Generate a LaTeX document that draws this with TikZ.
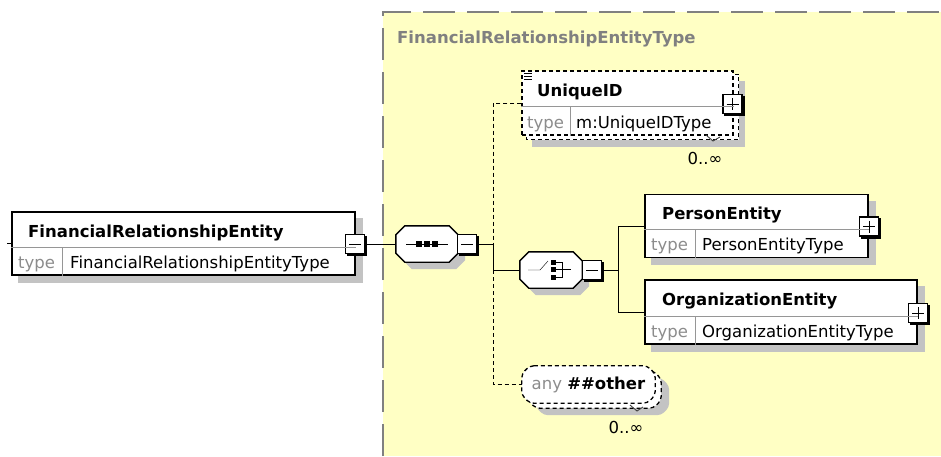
\documentclass[tikz,border=0pt]{standalone}
\usepackage{fontspec}
\setmainfont{DejaVu Sans}
\usetikzlibrary{calc}
\definecolor{bgyellow}{RGB}{255,255,196}
\definecolor{framegray}{RGB}{128,128,128}
\definecolor{shadowgray}{RGB}{195,195,195}
\definecolor{typegray}{RGB}{140,140,140}
\definecolor{rulegray}{RGB}{150,150,150}
\pgfdeclarelayer{bg}
\pgfdeclarelayer{shadow}
\pgfsetlayers{bg,shadow,main}

\tikzset{every picture/.style={line width=1.3pt},
  elem/.style={draw, fill=white, rectangle, inner sep=0pt, line width=1.3pt},
  optelem/.style={elem, dash pattern=on 4pt off 3pt},
  backcopy/.style={draw, fill=white, dash pattern=on 4pt off 3pt, line width=1.3pt},
  shadowfill/.style={fill=shadowgray},
  optline/.style={dash pattern=on 4pt off 3pt},
  togglebox/.style={draw, fill=white, rectangle, minimum size=19pt, inner sep=0pt, line width=1.2pt},
  compbox/.style={rectangle, minimum width=62pt, minimum height=36pt, inner sep=0pt},
  anybox/.style={rectangle, minimum width=133pt, minimum height=37pt, inner sep=0pt},
  txt/.style={font=\fontsize{16.5}{20}\selectfont, inner sep=0pt},
  elemname/.style={txt, font=\fontsize{16.5}{20}\selectfont\bfseries},
  typetag/.style={txt, text=typegray},
}

\begin{document}
\begin{tikzpicture}[x=1pt,y=1pt,yscale=-1]
\useasboundingbox (0,0) rectangle (941,456);

%Complex type area
\begin{pgfonlayer}{bg}
\fill[bgyellow] (383,12) rectangle (941,456);
\draw[framegray, line width=1.5pt, dash pattern=on 32pt off 12pt] (383,456) -- (383,12) -- (941,12);
\end{pgfonlayer}
% Text Node
\node[elemname, text=framegray, anchor=base west] (title) at (397,43) {FinancialRelationshipEntityType};

%Element: FinancialRelationshipEntity
\node[elem, minimum width=343pt, minimum height=63pt] (main) at (183.5,243.5) {};
\node[elemname, anchor=base west] (mainname) at (28,237) {FinancialRelationshipEntity};
\node[typetag, anchor=base west] (maintag) at (18,268) {type};
\node[txt, anchor=base west] (maintype) at (70,268) {FinancialRelationshipEntityType};
\coordinate (stub) at (7,243.5);

%Compositors: sequence and choice
\node[compbox] (seq) at (427,244) {};
\node[compbox] (choice) at (551,270) {};
\foreach \n in {seq,choice}
  \draw[fill=white, line width=1.4pt] ($(\n.north west)+(9,0)$) -- ($(\n.north east)+(-9,0)$) -- ($(\n.north east)+(0,9)$) -- ($(\n.south east)+(0,-9)$) -- ($(\n.south east)+(-9,0)$) -- ($(\n.south west)+(9,0)$) -- ($(\n.south west)+(0,-9)$) -- ($(\n.north west)+(0,9)$) -- cycle;
\draw (406,244) -- (448,244);
\foreach \x in {419,427,435} \fill (\x-3,241) rectangle +(6,6);
\draw (528,270) -- (540,270) -- (548,261);
\foreach \y in {262,269.5,277} \fill (550.5,\y-2.5) rectangle +(5,5);
\draw (555,262) -- (562,262) -- (562,277) -- (555,277);
\draw (555,269.5) -- (571,269.5);

%Element: UniqueID
\node[optelem, minimum width=211pt, minimum height=64pt] (uid) at (627.5,103) {};
\node[elemname, anchor=base west] (uidname) at (537,96) {UniqueID};
\node[typetag, anchor=base west] (uidtag) at (527,128) {type};
\node[txt, anchor=base west] (uidtype) at (576,128) {m:UniqueIDType};
\foreach \y in {73,76,79} \draw[line width=0.9pt] (524,\y) -- (532,\y);
\node[txt] (uidocc) at (705,158) {0..∞};
\draw[darkgray, line width=0.9pt] (706,135) -- (713,141) -- (720,137);

%Element: PersonEntity
\node[elem, minimum width=223pt, minimum height=63pt] (person) at (756.5,226) {};
\node[elemname, anchor=base west] (personname) at (662,219) {PersonEntity};
\node[typetag, anchor=base west] (persontag) at (651,250) {type};
\node[txt, anchor=base west] (persontype) at (702,250) {PersonEntityType};

%Element: OrganizationEntity
\node[elem, minimum width=272pt, minimum height=64pt] (org) at (781,312) {};
\node[elemname, anchor=base west] (orgname) at (662,305) {OrganizationEntity};
\node[typetag, anchor=base west] (orgtag) at (651,337) {type};
\node[txt, anchor=base west] (orgtype) at (702,337) {OrganizationEntityType};

%Any
\node[anybox] (any) at (588.5,384.5) {};
\draw[fill=white, line width=1.3pt, optline, rounded corners=4pt] ($(any.north west)+(8,0)$) -- ($(any.north east)+(-8,0)$) -- ($(any.north east)+(0,8)$) -- ($(any.south east)+(0,-8)$) -- ($(any.south east)+(-8,0)$) -- ($(any.south west)+(8,0)$) -- ($(any.south west)+(0,-8)$) -- ($(any.north west)+(0,8)$) -- cycle;
\node[txt] (anytext) at (any) {\textcolor{typegray}{any} \textbf{\#\#other}};
\node[txt] (anyocc) at (626,427) {0..∞};
\draw[darkgray, line width=0.9pt] (630,405) -- (637,411) -- (643,407);

%Toggle boxes
\node[togglebox] (mainminus) at (355,244) {};
\node[togglebox] (seqminus) at (467,244) {};
\node[togglebox] (choiceminus) at (592,270) {};
\node[togglebox] (uidplus) at (732.5,104) {};
\node[togglebox] (personplus) at (869,226.5) {};
\node[togglebox] (orgplus) at (918,313) {};
\foreach \t in {mainminus,seqminus,choiceminus,uidplus,personplus,orgplus} {
  \draw[line width=2.2pt] ($(\t.north east)+(1,2)$) -- ($(\t.south east)+(1,1)$) -- ($(\t.south west)+(2,1)$);
  \draw ($(\t.center)+(-6,0)$) -- ($(\t.center)+(6,0)$);
}
\foreach \t in {uidplus,personplus,orgplus} \draw ($(\t.center)+(0,-6)$) -- ($(\t.center)+(0,6)$);

%Row and column rules
\foreach \n/\r/\c in {main/36/51,person/36/51,org/37/51,uid/36/49} {
  \draw[rulegray, line width=1pt] ($(\n.north west)+(0,\r)$) -- ($(\n.north east)+(0,\r)$);
  \draw[rulegray, line width=1pt] ($(\n.north west)+(\c,\r)$) -- ($(\n.south west)+(\c,0)$);
}

%Connectors
\coordinate (j1) at (493,244);
\coordinate (j2) at (493,270);
\coordinate (j3) at (618,270);
\draw (stub) -- (main.west);
\draw (mainminus.east) -- (seq.west);
\draw (seqminus.east) -- (j1);
\draw[optline] (uid.west) -| (j1);
\draw (j1) -- (j2);
\draw (j2) -- (choice.west);
\draw[optline] (j2) |- (any.west);
\draw (choiceminus.east) -- (j3);
\draw (j3) |- (person.west);
\draw (j3) |- (org.west);

%Shadows and repeated copies
\begin{pgfonlayer}{shadow}
\foreach \n in {main,person,org} \fill[shadowfill] ($(\n.north west)+(7,7)$) rectangle ($(\n.south east)+(7,7)$);
\fill[shadowfill] ($(uid.north west)+(11,11)$) rectangle ($(uid.south east)+(11,11)$);
\draw[backcopy] ($(uid.north west)+(5,4)$) rectangle ($(uid.south east)+(5,4)$);
\node[compbox] (seqshadow) at ($(seq)+(7,7)$) {};
\node[compbox] (choiceshadow) at ($(choice)+(7,7)$) {};
\foreach \n in {seqshadow,choiceshadow}
  \fill[shadowfill] ($(\n.north west)+(9,0)$) -- ($(\n.north east)+(-9,0)$) -- ($(\n.north east)+(0,9)$) -- ($(\n.south east)+(0,-9)$) -- ($(\n.south east)+(-9,0)$) -- ($(\n.south west)+(9,0)$) -- ($(\n.south west)+(0,-9)$) -- ($(\n.north west)+(0,9)$) -- cycle;
\node[anybox] (anyshadow) at ($(any)+(14,12)$) {};
\node[anybox] (anyback) at ($(any)+(6,5)$) {};
\fill[shadowfill, rounded corners=4pt] ($(anyshadow.north west)+(8,0)$) -- ($(anyshadow.north east)+(-8,0)$) -- ($(anyshadow.north east)+(0,8)$) -- ($(anyshadow.south east)+(0,-8)$) -- ($(anyshadow.south east)+(-8,0)$) -- ($(anyshadow.south west)+(8,0)$) -- ($(anyshadow.south west)+(0,-8)$) -- ($(anyshadow.north west)+(0,8)$) -- cycle;
\draw[backcopy, rounded corners=4pt] ($(anyback.north west)+(8,0)$) -- ($(anyback.north east)+(-8,0)$) -- ($(anyback.north east)+(0,8)$) -- ($(anyback.south east)+(0,-8)$) -- ($(anyback.south east)+(-8,0)$) -- ($(anyback.south west)+(8,0)$) -- ($(anyback.south west)+(0,-8)$) -- ($(anyback.north west)+(0,8)$) -- cycle;
\end{pgfonlayer}
\end{tikzpicture}
\end{document}
